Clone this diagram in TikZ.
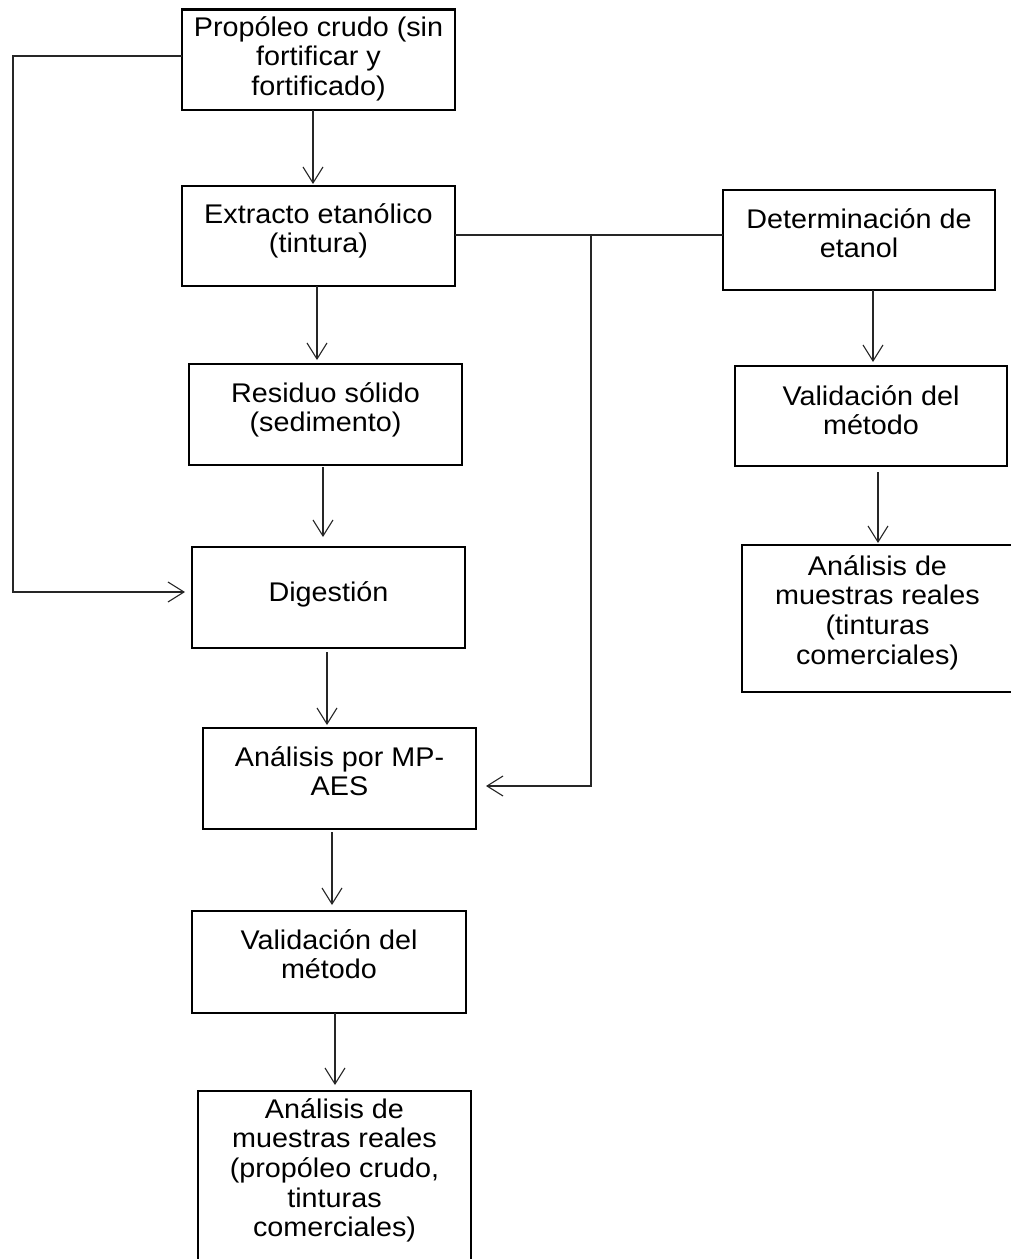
\documentclass[tikz,border=0pt]{standalone}
\usepackage{fontspec}
\setmainfont{Liberation Sans}[FakeStretch=1.065]
\usetikzlibrary{arrows.meta,calc}
\newcommand{\tl}[1]{\begin{tabular}[t]{@{}c@{}}#1\end{tabular}}
\begin{document}
\begin{tikzpicture}[x=1pt,y=-1pt,
  box/.style={draw=black, line width=2.4pt, inner sep=0pt, outer sep=0pt},
  lbl/.style={anchor=base, inner sep=0pt, font=\fontsize{27}{29.7}\selectfont},
  arr/.style={draw=black!85, line width=1.1pt, -{Straight Barb[length=16pt,width=20pt,line width=1.1pt]}},
  ln/.style={draw=black!85, line width=1.1pt}]
\useasboundingbox (0,0) rectangle (1011,1259);
% boxes
\node[box, minimum width=273pt, minimum height=100.5pt] (b1) at (318.5,59.75) {};
\node[box, minimum width=273pt, minimum height=100pt] (b2) at (318.5,236) {};
\node[box, minimum width=273pt, minimum height=101pt] (b3) at (325.5,414.5) {};
\node[box, minimum width=273pt, minimum height=101pt] (b4) at (328.5,597.5) {};
\node[box, minimum width=273pt, minimum height=101pt] (b5) at (339.5,778.5) {};
\node[box, minimum width=274pt, minimum height=102pt] (b6) at (329,962) {};
\node[box, minimum width=273pt, minimum height=175pt] (b7) at (334.5,1178.5) {};
\node[box, minimum width=272pt, minimum height=100pt] (bA) at (859,240) {};
\node[box, minimum width=272pt, minimum height=100pt] (bB) at (871,416) {};
\node[box, minimum width=272pt, minimum height=147pt] (bC) at (878,618.5) {};
% labels
\node[lbl] (t1) at (318.5,36) {\tl{Propóleo crudo (sin\\fortificar y\\fortificado)}};
\node[lbl] (t2) at (318.5,223) {\tl{Extracto etanólico\\(tintura)}};
\node[lbl] (t3) at (325.5,402) {\tl{Residuo sólido\\(sedimento)}};
\node[lbl] (t4) at (328.5,601) {\tl{Digestión}};
\node[lbl] (t5) at (339.5,766) {\tl{Análisis por MP-\\AES}};
\node[lbl] (t6) at (329,949) {\tl{Validación del\\método}};
\node[lbl] (t7) at (334.5,1118) {\tl{Análisis de\\muestras reales\\(propóleo crudo,\\tinturas\\comerciales)}};
\node[lbl] (tA) at (859,228) {\tl{Determinación de\\etanol}};
\node[lbl] (tB) at (871,405) {\tl{Validación del\\método}};
\node[lbl] (tC) at (877.5,575) {\tl{Análisis de\\muestras reales\\(tinturas\\comerciales)}};
% vertical arrows
\coordinate (c12) at ($(b1.south)+(-5.5,0)$);
\coordinate (c23) at ($(b2.south)+(-1.5,0)$);
\coordinate (c34) at ($(b3.south)+(-2.5,0)$);
\coordinate (c45) at ($(b4.south)+(-1.5,0)$);
\coordinate (c56) at ($(b5.south)+(-7.5,0)$);
\coordinate (c67) at ($(b6.south)+(6,0)$);
\coordinate (cAB) at ($(bA.south)+(14,0)$);
\coordinate (cBC) at ($(bB.south)+(7,0)$);
\draw[arr, shorten >=2pt] (c12) -- (c12 |- b2.north);
\draw[arr, shorten >=4pt] (c23) -- (c23 |- b3.north);
\draw[arr, shorten <=2pt, shorten >=10pt] (c34) -- (c34 |- b4.north);
\draw[arr, shorten <=4pt, shorten >=3pt] (c45) -- (c45 |- b5.north);
\draw[arr, shorten <=3pt, shorten >=6pt] (c56) -- (c56 |- b6.north);
\draw[arr, shorten >=6pt] (c67) -- (c67 |- b7.north);
\draw[arr, shorten >=4pt] (cAB) -- (cAB |- bB.north);
\draw[arr, shorten <=6pt, shorten >=2pt] (cBC) -- (cBC |- bC.north);
% left loop
\coordinate (l1) at ($(b1.west)+(0,-3.75)$);
\coordinate (l4) at ($(b4.west)+(0,-5.5)$);
\coordinate (lc) at (13,0);
\draw[arr, shorten >=7pt] (l1) -- (l1 -| lc) -- (lc |- l4) -- (l4);
% right link
\coordinate (r1) at ($(b2.east)+(0,-1)$);
\coordinate (r5) at ($(b5.east)+(0,7.5)$);
\coordinate (jx) at (591,0);
\draw[ln] (r1) -- (r1 -| bA.west);
\draw[arr, shorten >=10pt] (r1 -| jx) -- (jx |- r5) -- (r5);
\end{tikzpicture}
\end{document}
